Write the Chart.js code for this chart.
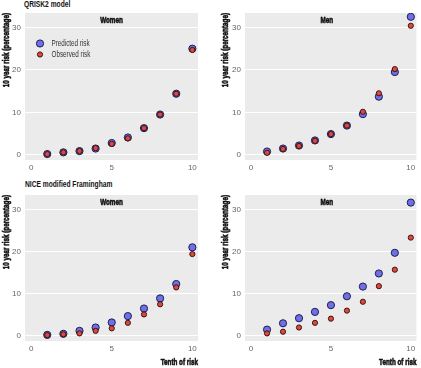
<!DOCTYPE html>
<html><head><meta charset="utf-8">
<script src="https://cdn.jsdelivr.net/npm/chart.js@4"></script>
<style>
html,body{margin:0;padding:0;background:#fff;width:421px;height:368px;overflow:hidden;position:relative}
canvas{position:absolute}
.sec{position:absolute;font:bold 9px 'Liberation Sans','DejaVu Sans',sans-serif;color:#111;white-space:nowrap;transform:scaleX(0.74);transform-origin:0 0}
</style></head><body>
<div class="sec" style="left:24px;top:-1px">QRISK2 model</div>
<div class="sec" style="left:25px;top:179px">NICE modified Framingham</div>
<canvas id="c1" width="205" height="175" style="left:0;top:0"></canvas>
<canvas id="c2" width="211" height="175" style="left:210px;top:0"></canvas>
<canvas id="c3" width="205" height="188" style="left:0;top:180px"></canvas>
<canvas id="c4" width="211" height="188" style="left:210px;top:180px"></canvas>
<script>
const tenths = [1,2,3,4,5,6,7,8,9,10];
const xTickValues = [0,5,10];
const yTickValues = [0,10,20,30];
const seriesNames = ['Predicted risk','Observed risk'];
const panelLabels = ['Women','Men','Women','Men'];
const xAxisTitle = 'Tenth of risk';
const yAxisTitle = '10 year risk (percentage)';

const qriskWomenPredicted = [0.2,0.6,0.9,1.5,2.8,4.1,6.3,9.5,14.4,25.0];
const qriskWomenObserved  = [0.2,0.6,0.9,1.6,2.6,3.9,6.3,9.5,14.4,24.7];
const qriskMenPredicted   = [0.8,1.5,2.2,3.4,4.9,6.9,9.6,13.7,19.5,32.5];
const qriskMenObserved    = [0.5,1.4,2.1,3.3,4.9,6.9,10.15,14.5,20.2,30.4];
const niceWomenPredicted  = [0.25,0.5,1.2,2.0,3.2,4.7,6.5,8.9,12.3,21.0];
const niceWomenObserved   = [0.2,0.4,0.6,1.2,1.8,3.1,5.1,7.5,11.5,19.4];
const niceMenPredicted    = [1.5,3.0,4.2,5.7,7.3,9.4,11.7,14.8,19.7,31.6];
const niceMenObserved     = [0.6,1.0,2.0,3.1,4.1,6.0,8.1,11.8,15.7,23.3];

const FONT = "'Liberation Sans','DejaVu Sans',sans-serif";
const SQ = 0.7; // horizontal condensing of label text
Chart.defaults.font.family = FONT;

function condensedText(ctx, text, x, y, align, heavy){
  ctx.save();
  ctx.translate(x, y);
  ctx.scale(SQ, 1);
  ctx.textAlign = align;
  if (heavy){ ctx.lineWidth = 0.6; ctx.strokeStyle = ctx.fillStyle; ctx.strokeText(text, 0, 0); }
  ctx.fillText(text, 0, 0);
  ctx.restore();
}

const bgPlugin = {
  id:'bg',
  beforeDraw(chart){
    const a = chart.chartArea, ctx = chart.ctx;
    ctx.save(); ctx.fillStyle = '#ebebeb';
    ctx.fillRect(a.left, a.top, a.right-a.left, a.bottom-a.top);
    ctx.restore();
  }
};
const labelPlugin = {
  id:'labels',
  afterDraw(chart, args, opts){
    const a = chart.chartArea, ctx = chart.ctx;
    ctx.save();
    ctx.textBaseline = 'middle';
    ctx.font = 'bold 9px ' + FONT; ctx.fillStyle = '#111';
    condensedText(ctx, opts.text, (a.left+a.right)/2 + (opts.dx||0), a.top + 7.5, 'center', true);
    ctx.save();
    ctx.translate(opts.ytx, a.top);
    ctx.rotate(-Math.PI/2);
    condensedText(ctx, yAxisTitle, 0, 0, 'right', true);
    ctx.restore();
    if (opts.xTitle){
      condensedText(ctx, xAxisTitle, a.right, chart.height - 5, 'right', true);
    }
    if (opts.legend){
      chart.data.datasets.slice().sort((p,q)=>p.legendIndex-q.legendIndex).forEach((ds,i)=>{
        const y = a.top + 30.5 + i*11, x = a.left + 15;
        ctx.beginPath(); ctx.arc(x, y, ds.pointRadius, 0, Math.PI*2);
        ctx.fillStyle = ds.backgroundColor; ctx.fill();
        ctx.lineWidth = ds.borderWidth; ctx.strokeStyle = ds.borderColor; ctx.stroke();
        ctx.font = '9px ' + FONT; ctx.fillStyle = '#333';
        condensedText(ctx, ds.label, a.left + 26.5, y + 0.5, 'left', false);
      });
    }
    ctx.restore();
  }
};

function makeChart(id, label, pred, obs, o){
  const mk = arr => tenths.map((t,i)=>({x:t, y:arr[i]}));
  return new Chart(document.getElementById(id), {
    type:'scatter',
    data:{datasets:[
      {label:seriesNames[0], legendIndex:0, order:1, data:mk(pred), pointRadius:3.6, pointHoverRadius:3.6,
       backgroundColor:'#6f70e6', borderColor:'#1d1d55', borderWidth:1},
      {label:seriesNames[1], legendIndex:1, order:0, data:mk(obs), pointRadius:2.6, pointHoverRadius:2.6,
       backgroundColor:'#d94a3e', borderColor:'#3f1414', borderWidth:1}
    ]},
    options:{
      responsive:false, animation:false, devicePixelRatio:1,
      layout:{padding:o.padding},
      plugins:{legend:{display:false}, tooltip:{enabled:false},
        labels:{text:label, legend:o.legend, dx:o.dx||0, xTitle:o.xTitle, ytx:o.ytx}},
      scales:{
        x:{type:'linear', min:-0.38, max:10.35,
           grid:{display:false, drawTicks:false, tickLength:0}, border:{display:false},
           afterBuildTicks:s=>{s.ticks = xTickValues.map(v=>({value:v}));},
           afterFit:s=>{s.height = o.xh;},
           ticks:{font:{size:8}, color:'#666', padding:3, maxRotation:0}},
        y:{type:'linear', min:-1.2, max:33.4,
           grid:{color:'#ffffff', lineWidth:1, drawTicks:false}, border:{display:false},
           afterBuildTicks:s=>{s.ticks = yTickValues.map(v=>({value:v}));},
           afterFit:s=>{s.width = o.yw;},
           ticks:{font:{size:8}, color:'#666', padding:4}}
      }
    },
    plugins:[bgPlugin, labelPlugin]
  });
}

makeChart('c1', panelLabels[0], qriskWomenPredicted, qriskWomenObserved,
  {padding:{top:13,right:7,left:0,bottom:0}, xh:15, yw:25, ytx:7, legend:true, xTitle:false});
makeChart('c2', panelLabels[1], qriskMenPredicted, qriskMenObserved,
  {padding:{top:13,right:2,left:0,bottom:0}, xh:15, yw:35, ytx:16, legend:false, xTitle:false, dx:-4});
makeChart('c3', panelLabels[2], niceWomenPredicted, niceWomenObserved,
  {padding:{top:15,right:7,left:0,bottom:0}, xh:27, yw:25, ytx:7, legend:false, xTitle:true});
makeChart('c4', panelLabels[3], niceMenPredicted, niceMenObserved,
  {padding:{top:15,right:2,left:0,bottom:0}, xh:27, yw:35, ytx:16, legend:false, xTitle:true, dx:-4});
</script>
</body></html>
